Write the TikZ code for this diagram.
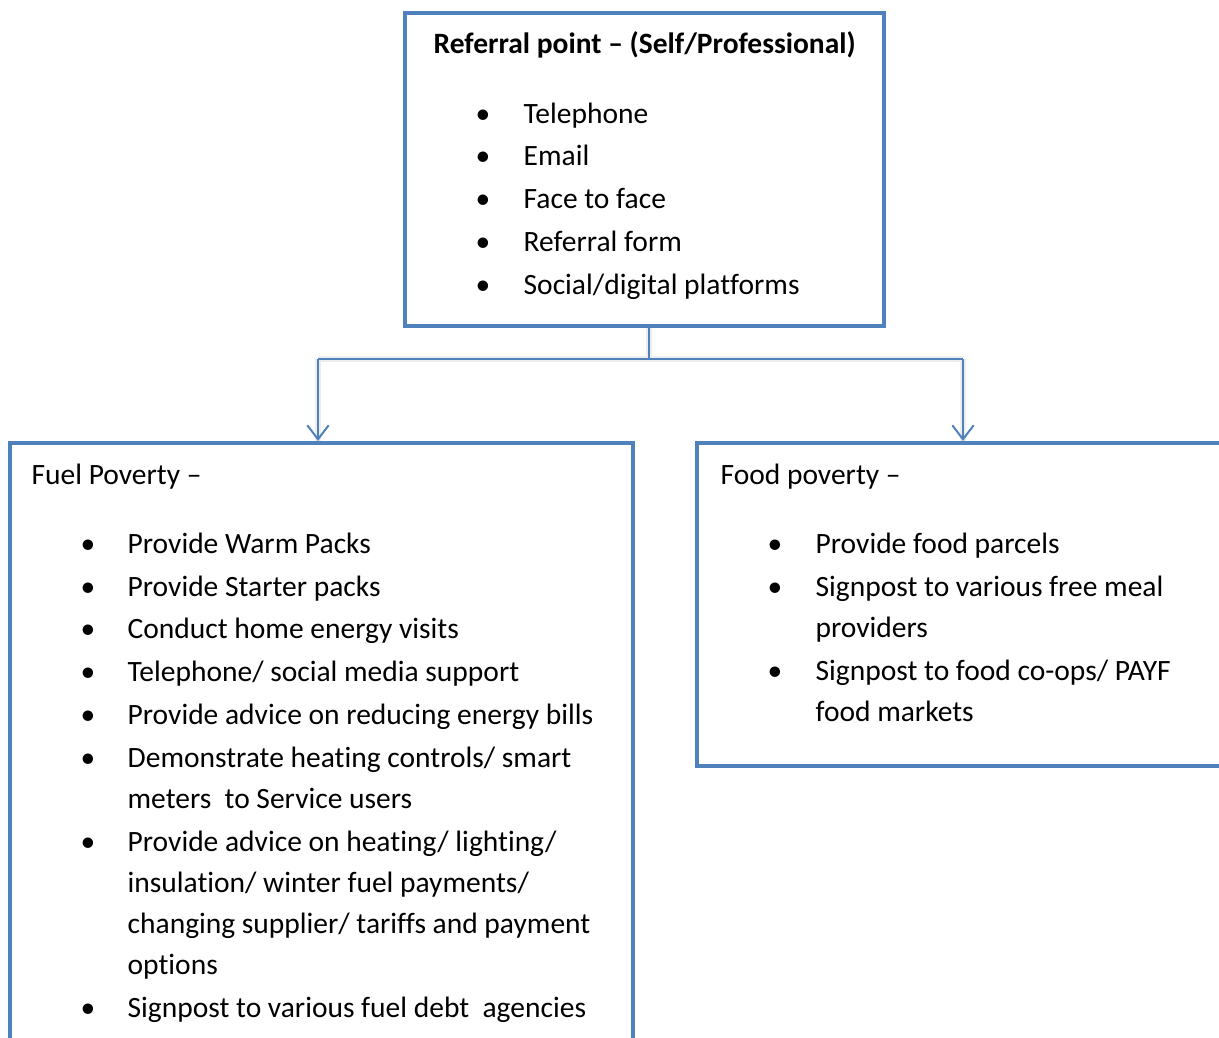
\documentclass[tikz,border=0pt]{standalone}
\usepackage{fontspec}
\setmainfont{Carlito}[Ligatures=CommonOff]
\usetikzlibrary{arrows.meta}
\definecolor{boxblue}{RGB}{79,129,189}
\tikzset{
  flowbox/.style={draw=boxblue,line width=1.25pt,inner sep=0pt},
  link/.style={draw=boxblue,line width=0.6pt},
  linkshadow/.style={draw=black!7,line width=1.6pt,xshift=0.9pt,yshift=-0.9pt},
  listtext/.style={anchor=mid west,inner sep=0pt,font=\fontsize{8.85}{10}\selectfont},
  dot/.style={anchor=mid,inner sep=0pt,font=\fontsize{8.85}{10}\selectfont},
}

\begin{document}
\begin{tikzpicture}[x=0.3pt,y=-0.3pt]
  \useasboundingbox (0,0) rectangle (1219,1038);
  \clip (0,0) rectangle (1219,1038);
  % boxes
  \node[flowbox,minimum width=143.7pt,minimum height=93.9pt] (referral) at (644.5,169.5) {};
  \node[flowbox,minimum width=186.9pt,minimum height=185.1pt] (fuel) at (321.5,751.5) {};
  \node[flowbox,minimum width=159.6pt,minimum height=96.9pt] (food) at (963,604.5) {};
  % connectors
  \coordinate (split) at (649,359);
  \coordinate (fuel-in) at ([xshift=-1.05pt]fuel.north);
  \draw[linkshadow] (referral.south -| split) -- (split);
  \draw[linkshadow] (fuel-in |- split) -- (food.north |- split);
  \draw[linkshadow] (fuel-in |- split) -- (fuel-in);
  \draw[linkshadow] (food.north |- split) -- (food.north);
  \draw[link] (referral.south -| split) -- (split);
  \draw[link] (fuel-in |- split) -- (food.north |- split);
  \draw[link,-{Straight Barb[length=4.2pt,width=6.4pt]}] (fuel-in |- split) -- (fuel-in);
  \draw[link,-{Straight Barb[length=4.2pt,width=6.4pt]}] (food.north |- split) -- (food.north);
  % headings
  \node[listtext,font=\fontsize{8.85}{10}\selectfont\bfseries] (referral-title) at (433,46) {Referral point – (Self/Professional)};
  \node[listtext] (fuel-title) at (31,477) {Fuel Poverty –};
  \node[listtext] (food-title) at (720,477) {Food poverty –};
  % referral list
  \foreach \y/\t [count=\i] in {116/Telephone,158/Email,201/Face to face,244/Referral form,287/{Social/digital platforms}}{
    \node[dot] (referral-dot-\i) at (483,\y) {\textbullet};
    \node[listtext] (referral-item-\i) at (523,\y) {\t};
  }
  % fuel list
  \foreach \y in {546,589,631,674,717,760,844,1010}
    \node[dot] (fuel-dot-\y) at (88,\y) {\textbullet};
  \foreach \y/\t [count=\i] in {546/Provide Warm Packs,589/Provide Starter packs,631/Conduct home energy visits,
      674/{Telephone/ social media support},717/Provide advice on reducing energy bills,
      760/{Demonstrate heating controls/ smart},801/meters~ to Service users,
      844/{Provide advice on heating/ lighting/},885/{insulation/ winter fuel payments/},
      926/{changing supplier/ tariffs and payment},967/options,1010/Signpost to various fuel debt~ agencies}
    \node[listtext] (fuel-item-\i) at (127,\y) {\t};
  % food list
  \foreach \y in {546,589,673}
    \node[dot] (food-dot-\y) at (775,\y) {\textbullet};
  \foreach \y/\t [count=\i] in {546/Provide food parcels,589/Signpost to various free meal,630/providers,
      673/{Signpost to food co-ops/ PAYF},714/food markets}
    \node[listtext] (food-item-\i) at (815,\y) {\t};
\end{tikzpicture}
\end{document}
